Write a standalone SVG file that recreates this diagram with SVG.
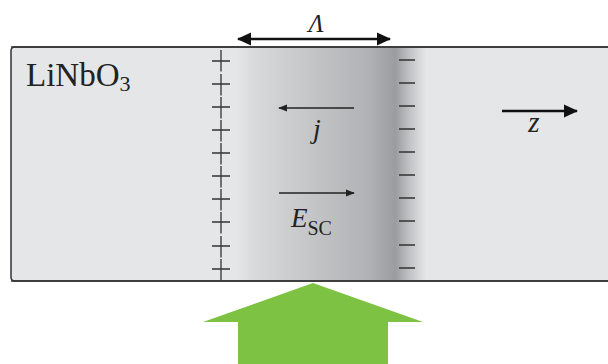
<svg xmlns="http://www.w3.org/2000/svg" width="608" height="364" viewBox="0 0 608 364">
<defs>
<linearGradient id="band" x1="236" y1="0" x2="426" y2="0" gradientUnits="userSpaceOnUse">
<stop offset="0" stop-color="#e6e7e8"/>
<stop offset="0.1" stop-color="#d8d9da"/>
<stop offset="0.4" stop-color="#c4c5c7"/>
<stop offset="0.7" stop-color="#b0b2b5"/>
<stop offset="0.84" stop-color="#9a9ca0"/>
<stop offset="0.92" stop-color="#c4c6c8"/>
<stop offset="1" stop-color="#e5e6e7"/>
</linearGradient>
<marker id="ah" viewBox="0 0 10 10" refX="9" refY="5" markerWidth="9" markerHeight="9" markerUnits="userSpaceOnUse" orient="auto-start-reverse">
<path d="M0,1 L10,5 L0,9 z" fill="#222"/>
</marker>
<marker id="ahb" viewBox="0 0 14 14" refX="13" refY="7" markerWidth="14" markerHeight="14" markerUnits="userSpaceOnUse" orient="auto-start-reverse">
<path d="M0,0.5 L14,7 L0,13.5 z" fill="#111"/>
</marker>
<style>
.t{font-family:'Liberation Serif','DejaVu Serif',serif;fill:#222}
.i{font-style:italic}
.pm{stroke:#333;stroke-width:1.3;fill:none}
</style>
</defs>
<g id="crystal">
<path d="M612,47 L15,47 Q11,47 11,51 L11,277 Q11,281 15,281 L612,281 z" fill="#e5e6e7" stroke="#333" stroke-width="1.5"/>
<rect x="236" y="48" width="190" height="232" fill="url(#band)"/>
<line x1="11" y1="47" x2="608" y2="47" stroke="#333" stroke-width="1.5"/>
<line x1="11" y1="281" x2="608" y2="281" stroke="#333" stroke-width="1.5"/>
<text class="t" x="26" y="86" font-size="33">LiNbO<tspan font-size="22" dy="5">3</tspan></text>
</g>
<g id="plus">
<path class="pm" d="M221,50v21.5M221,74v21.5M221,97v21.5M221,120v21.5M221,143v21.5M221,166v21.5M221,189v21.5M221,212v21.5M221,236v21.5M221,259v21.5"/>
<path class="pm" d="M212,61h18M212,84h18M212,107h18M212,130h18M212,153h18M212,176h18M212,199h18M212,222h18M212,246h18M212,269h18"/>
</g>
<g id="minus">
<path class="pm" d="M399,60h16M399,83h16M399,106h16M399,129h16M399,152h16M399,175h16M399,198h16M399,221h16M399,245h16M399,268h16"/>
</g>
<g id="connectors">
<line x1="238" y1="39" x2="390" y2="39" stroke="#111" stroke-width="2.5" marker-start="url(#ahb)" marker-end="url(#ahb)"/>
<line x1="354" y1="108" x2="279" y2="108" stroke="#222" stroke-width="1.3" marker-end="url(#ah)"/>
<line x1="279" y1="193" x2="354" y2="193" stroke="#222" stroke-width="1.3" marker-end="url(#ah)"/>
<line x1="502" y1="111" x2="577" y2="111" stroke="#111" stroke-width="2.5" marker-end="url(#ahb)"/>
</g>
<g id="labels">
<text class="t i" x="316" y="32" font-size="25" text-anchor="middle">Λ</text>
<text class="t i" x="317" y="138" font-size="28" text-anchor="middle">j</text>
<text class="t i" x="291" y="227" font-size="27">E<tspan font-style="normal" font-size="20" dy="8">SC</tspan></text>
<text class="t i" x="534" y="132" font-size="29" text-anchor="middle">z</text>
</g>
<g id="light">
<path d="M313,283 L423,322 L388,322 L388,364 L238,364 L238,322 L203,322 z" fill="#7dc243"/>
</g>
</svg>
